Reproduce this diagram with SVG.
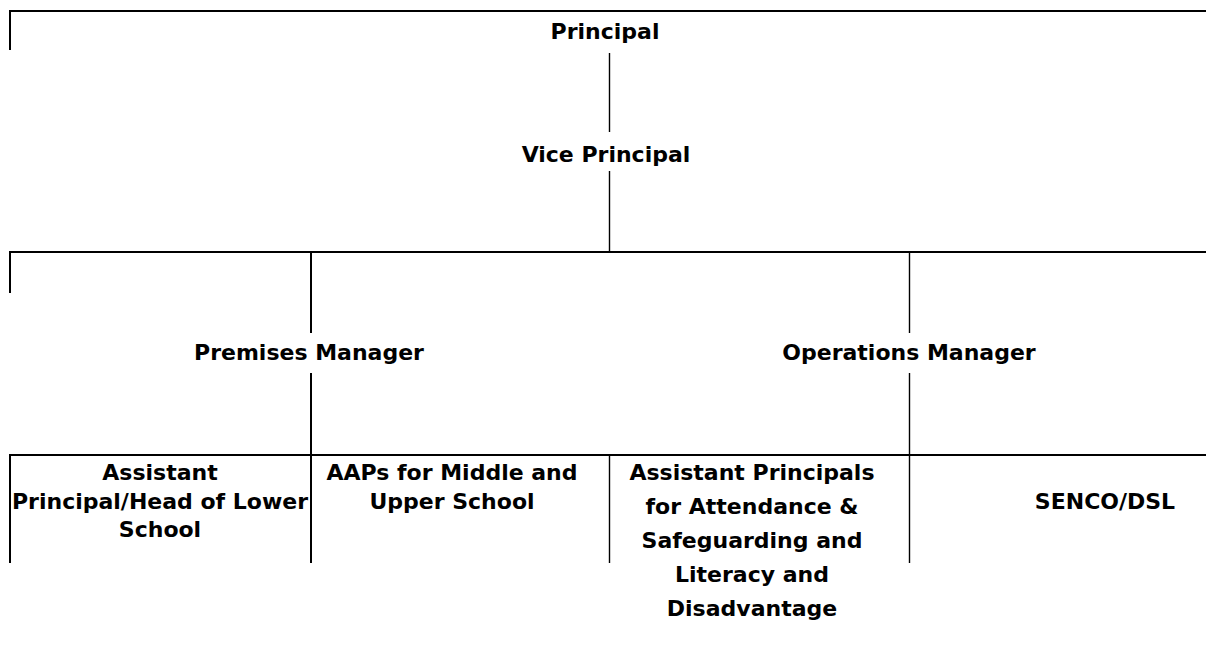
<svg xmlns="http://www.w3.org/2000/svg" width="1206" height="650" viewBox="0 0 1206 650">
<style>
.t{font-family:"DejaVu Sans","Liberation Sans",sans-serif;font-weight:bold;font-size:22px;fill:#000;text-anchor:middle}
.h{stroke:#000;stroke-width:2.2;fill:none}
.v{stroke:#000;stroke-width:2;fill:none}
.vt{stroke:#000;stroke-width:1.4;fill:none}
</style>
<rect width="1206" height="650" fill="#fff"/>
<g id="connectors">
<path class="h" d="M9 11H1206M9 252H1206M9 455H1206"/>
<path class="v" d="M10 10V50M10 251V293M10 454V563M311 251V333M311 373V563"/>
<path class="vt" d="M609.5 53V132M609.5 171V252M909.5 252V333M909.5 373V455M609.5 455V563M909.5 455V563"/>
</g>
<g id="principal"><text class="t" x="605" y="39">Principal</text></g>
<g id="vice-principal"><text class="t" x="606" y="162">Vice Principal</text></g>
<g id="premises-manager"><text class="t" x="309" y="360">Premises Manager</text></g>
<g id="operations-manager"><text class="t" x="909" y="360">Operations Manager</text></g>
<g id="head-lower-school"><text class="t" x="160" y="480">Assistant</text><text class="t" x="160" y="509">Principal/Head of Lower</text><text class="t" x="160" y="537">School</text></g>
<g id="aaps"><text class="t" x="452" y="480">AAPs for Middle and</text><text class="t" x="452" y="509">Upper School</text></g>
<g id="assistant-principals"><text class="t" x="752" y="480">Assistant Principals</text><text class="t" x="752" y="514">for Attendance &amp;</text><text class="t" x="752" y="548">Safeguarding and</text><text class="t" x="752" y="582">Literacy and</text><text class="t" x="752" y="616">Disadvantage</text></g>
<g id="senco"><text class="t" x="1105" y="509">SENCO/DSL</text></g>
</svg>
